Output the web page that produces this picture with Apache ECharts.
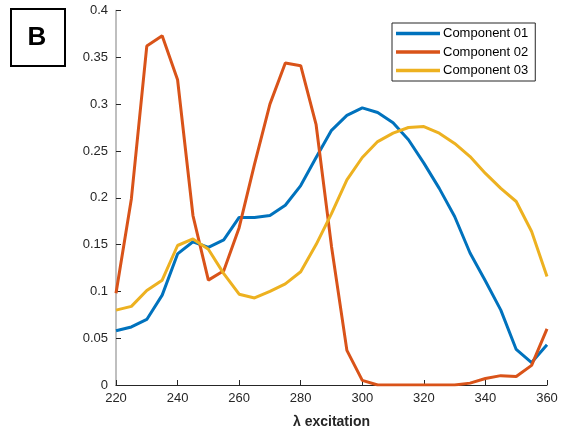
<!DOCTYPE html>
<html>
<head>
<meta charset="utf-8">
<script src="https://cdn.jsdelivr.net/npm/echarts@6/dist/echarts.min.js"></script>
<style>
  html, body { margin: 0; padding: 0; background: #fff; }
  #chart { width: 561px; height: 437px; }
</style>
</head>
<body>
<div id="chart"></div>
<script>
// Excitation wavelengths (nm), 5 nm steps
const wavelengths = [220,225,230,235,240,245,250,255,260,265,270,275,280,285,290,
                     295,300,305,310,315,320,325,330,335,340,345,350,355,360];

const component01 = [0.058,0.062,0.070,0.096,0.140,0.153,0.147,0.155,0.179,0.179,0.181,0.192,0.213,0.243,0.272,
                     0.288,0.296,0.291,0.280,0.262,0.237,0.210,0.180,0.141,0.111,0.080,0.038,0.024,0.043];
const component02 = [0.098,0.199,0.362,0.373,0.326,0.181,0.112,0.122,0.168,0.236,0.300,0.344,0.341,0.278,0.148,
                     0.037,0.005,0.000,0.000,0.000,0.000,0.000,0.000,0.002,0.007,0.010,0.009,0.021,0.060];
const component03 = [0.080,0.084,0.101,0.112,0.149,0.156,0.145,0.119,0.097,0.093,0.100,0.108,0.121,0.150,0.183,
                     0.219,0.243,0.260,0.269,0.275,0.276,0.269,0.258,0.244,0.226,0.210,0.196,0.164,0.116];

const seriesNames = ['Component 01', 'Component 02', 'Component 03'];
const seriesColors = ['#0072BD', '#D95319', '#EDB120'];
const xTicks = { min: 220, max: 360, step: 20 };
const yTicks = { min: 0, max: 0.4, step: 0.05 };

const pairs = vals => wavelengths.map((w, i) => [w, vals[i]]);
const allValues = [component01, component02, component03];

const chart = echarts.init(document.getElementById('chart'), null, { renderer: 'canvas' });
chart.setOption({
  animation: false,
  textStyle: { fontFamily: 'Liberation Sans, Arial, sans-serif' },
  grid: { left: 116, right: 14, top: 10.5, bottom: 52, containLabel: false },
  xAxis: {
    type: 'value', min: xTicks.min, max: xTicks.max, interval: xTicks.step,
    name: 'λ excitation', nameLocation: 'middle', nameGap: 30,
    nameTextStyle: { fontSize: 14, fontWeight: 'bold', color: '#262626' },
    axisLine: { lineStyle: { color: '#262626', width: 1 } },
    axisTick: { inside: true, length: 5, lineStyle: { color: '#262626' } },
    axisLabel: { fontSize: 13, color: '#262626', margin: 7 },
    splitLine: { show: false }
  },
  yAxis: {
    type: 'value', min: yTicks.min, max: yTicks.max, interval: yTicks.step,
    axisLine: { show: true, lineStyle: { color: '#aaaaaa', width: 1.5 } },
    axisTick: { show: true, inside: true, length: 5, lineStyle: { color: '#262626' } },
    axisLabel: { fontSize: 13, color: '#262626', margin: 8 },
    splitLine: { show: false }
  },
  legend: {
    orient: 'vertical', left: 392, top: 23,
    data: seriesNames,
    icon: 'rect', itemWidth: 44, itemHeight: 3.5, itemGap: 5.5,
    padding: [4, 7, 4, 4],
    backgroundColor: '#fff', borderColor: '#262626', borderWidth: 1, borderRadius: 0,
    textStyle: { fontSize: 13, color: '#000', padding: [0, 0, 0, -2] }
  },
  series: seriesNames.map((name, i) => ({
    name, type: 'line', data: pairs(allValues[i]),
    showSymbol: false, symbol: 'none', smooth: false,
    lineStyle: { width: 3, color: seriesColors[i] },
    itemStyle: { color: seriesColors[i] }
  })),
  graphic: [
    { type: 'rect', left: 10, top: 8, shape: { width: 54, height: 57 },
      style: { fill: '#fff', stroke: '#000', lineWidth: 2 } },
    { type: 'text', x: 37, y: 38,
      style: { text: 'B', font: 'bold 26px "Liberation Sans", Arial, sans-serif', fill: '#000',
               align: 'center', verticalAlign: 'middle' } }
  ]
});
</script>
</body>
</html>
